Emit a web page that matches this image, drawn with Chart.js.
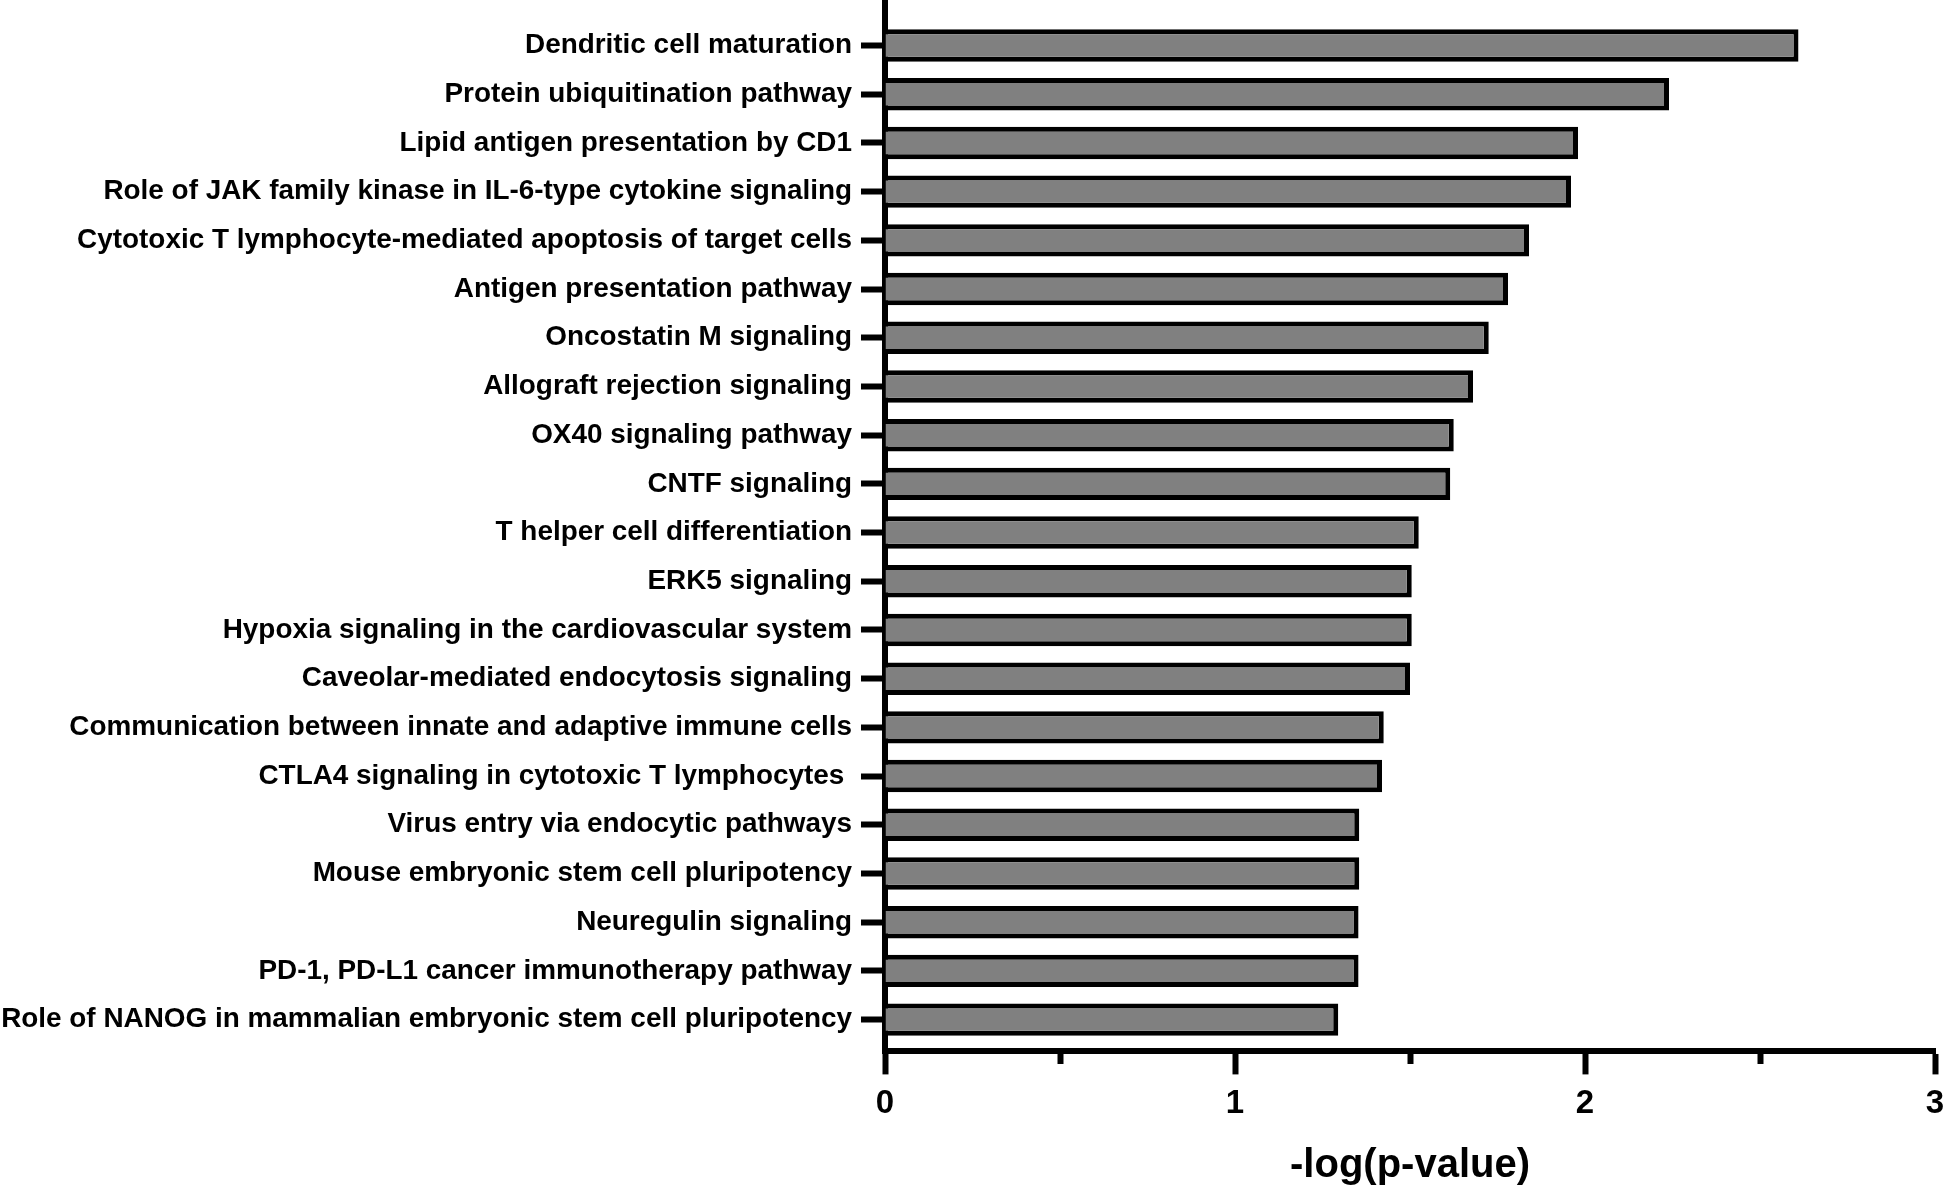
<!DOCTYPE html>
<html>
<head>
<meta charset="utf-8">
<script src="https://cdn.jsdelivr.net/npm/chart.js@4/dist/chart.umd.min.js"></script>
<style>
  html, body { margin: 0; padding: 0; background: #fff; }
  #wrap { width: 1944px; height: 1192px; }
</style>
</head>
<body>
<div id="wrap"><canvas id="c" width="1944" height="1192"></canvas></div>
<script>
const categories = [
  "Dendritic cell maturation",
  "Protein ubiquitination pathway",
  "Lipid antigen presentation by CD1",
  "Role of JAK family kinase in IL-6-type cytokine signaling",
  "Cytotoxic T lymphocyte-mediated apoptosis of target cells",
  "Antigen presentation pathway",
  "Oncostatin M signaling",
  "Allograft rejection signaling",
  "OX40 signaling pathway",
  "CNTF signaling",
  "T helper cell differentiation",
  "ERK5 signaling",
  "Hypoxia signaling in the cardiovascular system",
  "Caveolar-mediated endocytosis signaling",
  "Communication between innate and adaptive immune cells",
  "CTLA4 signaling in cytotoxic T lymphocytes ",
  "Virus entry via endocytic pathways",
  "Mouse embryonic stem cell pluripotency",
  "Neuregulin signaling",
  "PD-1, PD-L1 cancer immunotherapy pathway",
  "Role of NANOG in mammalian embryonic stem cell pluripotency"
];
const negLogP = [2.61, 2.24, 1.98, 1.96, 1.84, 1.78, 1.725, 1.68, 1.625, 1.615,
                 1.525, 1.505, 1.505, 1.50, 1.425, 1.42, 1.355, 1.355, 1.353, 1.353, 1.295];
const xTickLabels = ["0", "1", "2", "3"];
const xTitle = "-log(p-value)";

const FONT = "'Liberation Sans', Arial, Helvetica, sans-serif";

new Chart(document.getElementById('c'), {
  type: 'bar',
  data: {
    datasets: [{
      data: negLogP.map((v, i) => ({ x: v, y: i })),
      backgroundColor: '#808080',
      borderColor: '#000000',
      borderWidth: 5,
      barPercentage: 0.666,
      categoryPercentage: 1.0
    }]
  },
  options: {
    indexAxis: 'y',
    responsive: false,
    animation: false,
    layout: { padding: { top: 0, right: 9, bottom: 0, left: 0 } },
    plugins: { legend: { display: false }, tooltip: { enabled: false } },
    scales: {
      y: {
        type: 'linear',
        reverse: true,
        offset: false,
        min: -0.935,
        max: 20.653,
        afterFit: (scale) => {
          scale.width = 885;
          scale.paddingTop = 0;
          scale.paddingBottom = 0;
        },
        border: { display: true, color: '#000', width: 6 },
        grid: {
          display: true, offset: false, drawOnChartArea: false, drawTicks: true,
          tickLength: 24, tickWidth: 6, tickColor: '#000'
        },
        ticks: {
          stepSize: 1,
          includeBounds: false,
          autoSkip: false,
          padding: 9,
          color: '#000',
          font: { family: FONT, size: 27.9, weight: 'bold', lineHeight: 0.01 },
          callback: (v) => categories[v]
        }
      },
      x: {
        type: 'linear',
        min: 0,
        max: 3,
        afterFit: (scale) => {
          scale.paddingRight = 0;
          scale.paddingLeft = 0;
        },
        border: { display: true, color: '#000', width: 6 },
        grid: {
          display: true, drawOnChartArea: false, drawTicks: true,
          tickLength: 23, tickWidth: 6, tickColor: '#000',
          tickBorderDash: (ctx) => (ctx.tick && Number.isInteger(ctx.tick.value)) ? [] : [10, 100]
        },
        ticks: {
          stepSize: 0.5,
          autoSkip: false,
          maxRotation: 0,
          padding: 10,
          color: '#000',
          font: { family: FONT, size: 33, weight: 'bold', lineHeight: 1.2 },
          callback: (v) => Number.isInteger(v) ? xTickLabels[v] : ''
        },
        title: {
          display: true,
          text: xTitle,
          color: '#000',
          font: { family: FONT, size: 40, weight: 'bold', lineHeight: 1.2 },
          padding: { top: 8, bottom: 2 }
        }
      }
    }
  }
});
</script>
</body>
</html>
